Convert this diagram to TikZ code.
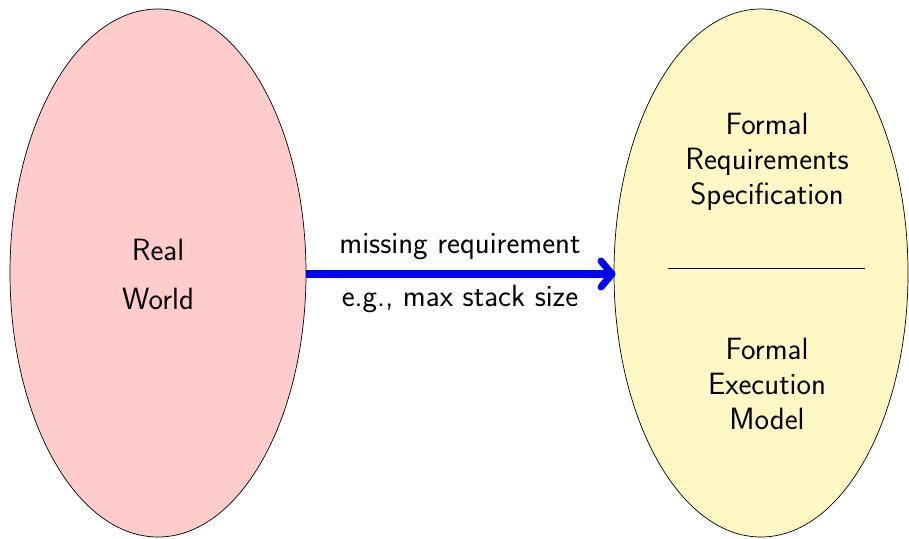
\documentclass[tikz,border=0pt]{standalone}
\usepackage{fontspec}
\usepackage{tikz}
\definecolor{cream}{RGB}{255,248,196}
\begin{document}
\begin{tikzpicture}[x=1pt,y=-1pt,
  lbl/.style={font=\sffamily\fontsize{30.8}{35}\selectfont, align=center, inner sep=0pt},
  blob/.style={draw=black, line width=0.7pt},
  arr/.style={blue, line width=7pt, line cap=round, line join=round}]
\useasboundingbox (0,0) rectangle (909,538);
\fill[red!20, blob] (158,273) ellipse [x radius=148, y radius=264];
\fill[cream, blob] (761,273) ellipse [x radius=147, y radius=264];
\coordinate (L) at (306,274);
\coordinate (R) at (612,274);
\coordinate (a1) at (601,261);
\coordinate (a2) at (601,287);
\coordinate (s1) at (668,268);
\coordinate (s2) at (865,268);
\draw[line width=0.5pt] (s1) -- (s2);
\draw[arr, line width=8pt, line cap=butt] (L) -- (R);
\draw[arr] (a1) -- (R) -- (a2);
\node[lbl] (rw1) at (158,250) {Real};
\node[lbl] (rw2) at (158,299) {World};
\node[lbl] (frs) at (767,162) {Formal\\Requirements\\Specification};
\node[lbl] (fem) at (767,384) {Formal\\Execution\\Model};
\node[lbl, anchor=base] (m1) at (460,253) {missing requirement};
\node[lbl, anchor=base] (m2) at (460,306) {e.g., max stack size};
\end{tikzpicture}
\end{document}
